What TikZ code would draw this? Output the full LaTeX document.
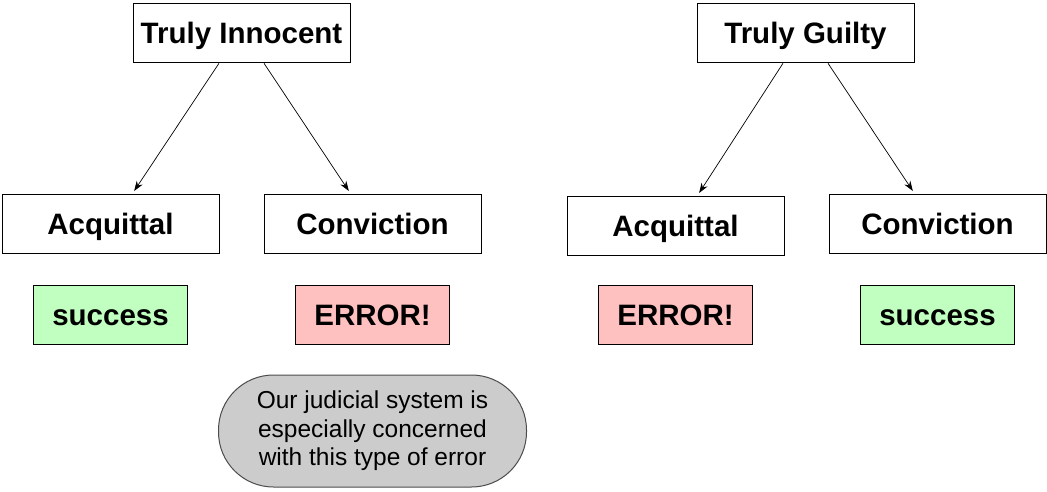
\documentclass[tikz,border=0pt]{standalone}
\usepackage{fontspec}
\setmainfont{Liberation Sans}
\usetikzlibrary{arrows.meta,positioning}

\definecolor{okgreen}{HTML}{C0FFC0}
\definecolor{errred}{HTML}{FFC0C0}
\definecolor{notegray}{HTML}{CCCCCC}

\begin{document}
\begin{tikzpicture}[
    x=1pt, y=-1pt,
    every node/.style={align=center},
    truth/.style={draw, rectangle, line width=1pt, fill=white,
                  minimum width=217pt, minimum height=59pt, inner sep=2pt,
                  text height=24pt, text depth=2pt,
                  font=\fontsize{29.5}{33}\selectfont\bfseries},
    verdict/.style={truth},
    outcome/.style={draw, rectangle, line width=1pt,
                    minimum width=154pt, minimum height=59pt, inner sep=2pt,
                    text height=24pt, text depth=2pt,
                    font=\fontsize{29.5}{33}\selectfont\bfseries},
    good/.style={outcome, fill=okgreen},
    bad/.style={outcome, fill=errred},
    remark/.style={draw=black!70, line width=1pt, fill=notegray, rounded corners=55pt,
                   minimum width=308pt, minimum height=112pt, inner sep=2pt,
                   font=\fontsize{24.5}{28.5}\selectfont},
    arrow/.style={-{Stealth[length=10pt, width=7pt]}, line width=0.7pt,
                  shorten <=1pt, shorten >=3pt}
]
\useasboundingbox (0,0) rectangle (1047,491);

% what really happened
\node[truth] (innocent) at (241.5,32.5) {Truly Innocent};
\node[truth] (guilty)   at (805.5,32.5) {Truly Guilty};

% what the court decides
\node[verdict] (acqL)  at (110.5,223.5) {Acquittal};
\node[verdict] (convL) at (372.5,223.5) {Conviction};
\node[verdict] (acqR)  at (675.5,225.5) {Acquittal};
\node[verdict] (convR) at (937.5,223.5) {Conviction};

% outcomes
\node[good, below=31pt of acqL]  (succL) {success};
\node[bad,  below=31pt of convL] (errL)  {ERROR!};
\node[bad,  below=29pt of acqR]  (errR)  {ERROR!};
\node[good, below=31pt of convR] (succR) {success};

\node[remark, below=30pt of errL] (note)
    {Our judicial system is\\especially concerned\\with this type of error};

\draw[arrow] ([xshift=-22pt]innocent.south) -- ([xshift=22pt]acqL.north);
\draw[arrow] ([xshift=22pt]innocent.south)  -- ([xshift=-22pt]convL.north);
\draw[arrow] ([xshift=-22pt]guilty.south)   -- ([xshift=22pt]acqR.north);
\draw[arrow] ([xshift=22pt]guilty.south)    -- ([xshift=-23pt]convR.north);
\end{tikzpicture}
\end{document}
